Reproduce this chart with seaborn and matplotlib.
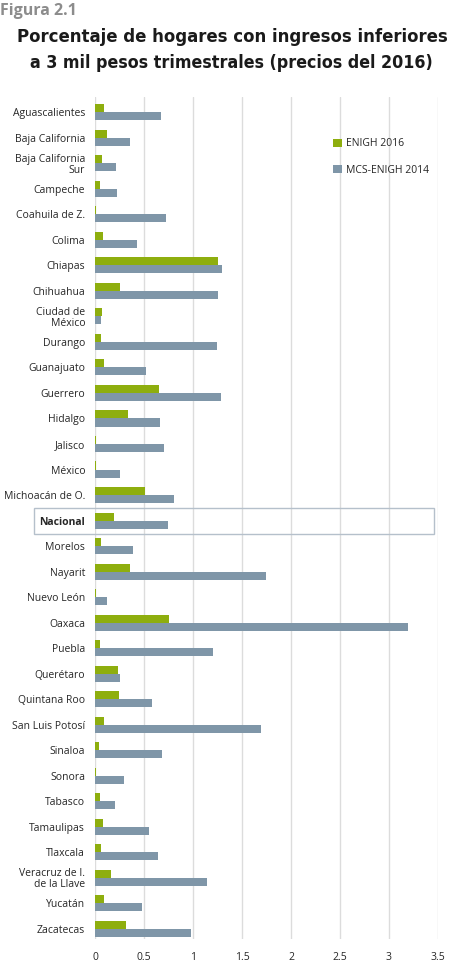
import matplotlib
matplotlib.use('Agg')
import matplotlib.pyplot as plt
import matplotlib.transforms as mtransforms
from matplotlib.patches import Rectangle
import seaborn as sns
import pandas as pd

# data
estados = ['Aguascalientes', 'Baja California', 'Baja California\nSur', 'Campeche',
           'Coahuila de Z.', 'Colima', 'Chiapas', 'Chihuahua', 'Ciudad de\nMéxico',
           'Durango', 'Guanajuato', 'Guerrero', 'Hidalgo', 'Jalisco', 'México',
           'Michoacán de O.', 'Nacional', 'Morelos', 'Nayarit', 'Nuevo León', 'Oaxaca',
           'Puebla', 'Querétaro', 'Quintana Roo', 'San Luis Potosí', 'Sinaloa', 'Sonora',
           'Tabasco', 'Tamaulipas', 'Tlaxcala', 'Veracruz de I.\nde la Llave', 'Yucatán',
           'Zacatecas']
enigh_2016 = [0.09, 0.12, 0.07, 0.05, 0.01, 0.08, 1.26, 0.25, 0.07, 0.065, 0.09, 0.65,
              0.34, 0.01, 0.01, 0.51, 0.19, 0.065, 0.36, 0.007, 0.76, 0.05, 0.23, 0.24,
              0.09, 0.04, 0.01, 0.05, 0.08, 0.065, 0.16, 0.09, 0.32]
mcs_2014 = [0.67, 0.36, 0.21, 0.22, 0.72, 0.43, 1.30, 1.25, 0.06, 1.24, 0.52, 1.29,
            0.66, 0.70, 0.26, 0.81, 0.74, 0.39, 1.74, 0.12, 3.19, 1.20, 0.26, 0.58,
            1.69, 0.68, 0.30, 0.20, 0.55, 0.64, 1.14, 0.48, 0.98]
series = ['ENIGH 2016', 'MCS-ENIGH 2014']

df = pd.DataFrame({'estado': estados * 2,
                   'valor': enigh_2016 + mcs_2014,
                   'serie': [series[0]] * len(estados) + [series[1]] * len(estados)})

sns.set_style('white')
plt.rcParams['font.family'] = ['Open Sans', 'DejaVu Sans']

fig = plt.figure(figsize=(4.49, 9.64), dpi=100)
ax = fig.add_axes([95 / 449, 1 - 939 / 964, (438 - 95) / 449, (939 - 97) / 964])

sns.barplot(data=df, y='estado', x='valor', hue='serie', order=estados,
            hue_order=series, palette=['#8eae0e', '#7f96a8'], orient='h',
            width=0.63, linewidth=0, saturation=1, ax=ax)

ax.set_xlim(0, 3.5)
ax.set_ylim(32.4, -0.6)
ax.set_xticks([0, 0.5, 1, 1.5, 2, 2.5, 3, 3.5])
ax.set_xticklabels(['0', '0.5', '1', '1.5', '2', '2.5', '3', '3.5'], fontsize=7.5)
ax.tick_params(axis='y', labelsize=7.5, length=0, pad=7)
ax.tick_params(axis='x', length=0, pad=9)
ax.xaxis.grid(True, color='#dcdcdc', linewidth=1)
ax.set_axisbelow(True)
for s in ax.spines.values():
    s.set_visible(False)
ax.set_xlabel('')
ax.set_ylabel('')
for lbl in ax.get_yticklabels():
    lbl.set_horizontalalignment('right')
    lbl.set_linespacing(1.0)
    if lbl.get_text() == 'Nacional':
        lbl.set_fontweight('bold')

# box around Nacional
i_nac = estados.index('Nacional')
trans = mtransforms.blended_transform_factory(fig.transFigure, ax.transData)
fig.patches.append(Rectangle((34 / 449, i_nac - 0.5), 400 / 449, 1.02,
                             transform=trans, fill=False, edgecolor='#b5c0cb',
                             linewidth=1, clip_on=False))

leg = ax.legend(loc='upper left', bbox_to_anchor=(324 / 449, 1 - 129 / 964),
                bbox_transform=fig.transFigure, frameon=False, fontsize=7.5,
                handlelength=0.8, handleheight=0.8, handletextpad=0.4,
                labelspacing=1.5)

fig.text(0.0, 1 - 11 / 964, 'Figura 2.1', fontsize=11.5, fontweight='bold',
         color='#8c8c8c', va='center', ha='left')

# title: condensed bold, shrink to fit the width of the reference
titulo = ['Porcentaje de hogares con ingresos inferiores',
          'a 3 mil pesos trimestrales (precios del 2016)']
anchos = [430, 402]
alturas = [37, 63]
renderer = fig.canvas.get_renderer()
for linea, ancho, yy in zip(titulo, anchos, alturas):
    t = fig.text(0.52, 1 - yy / 964, linea, fontsize=17, fontweight='bold',
                 color='#1a1a1a', ha='center', va='center',
                 family='DejaVu Sans', fontstretch='condensed')
    w = t.get_window_extent(renderer).width
    t.set_fontsize(17 * ancho / w)
    t.set_x(232 / 449 if yy == 37 else 231 / 449)

fig.savefig('out.png', dpi=100)
